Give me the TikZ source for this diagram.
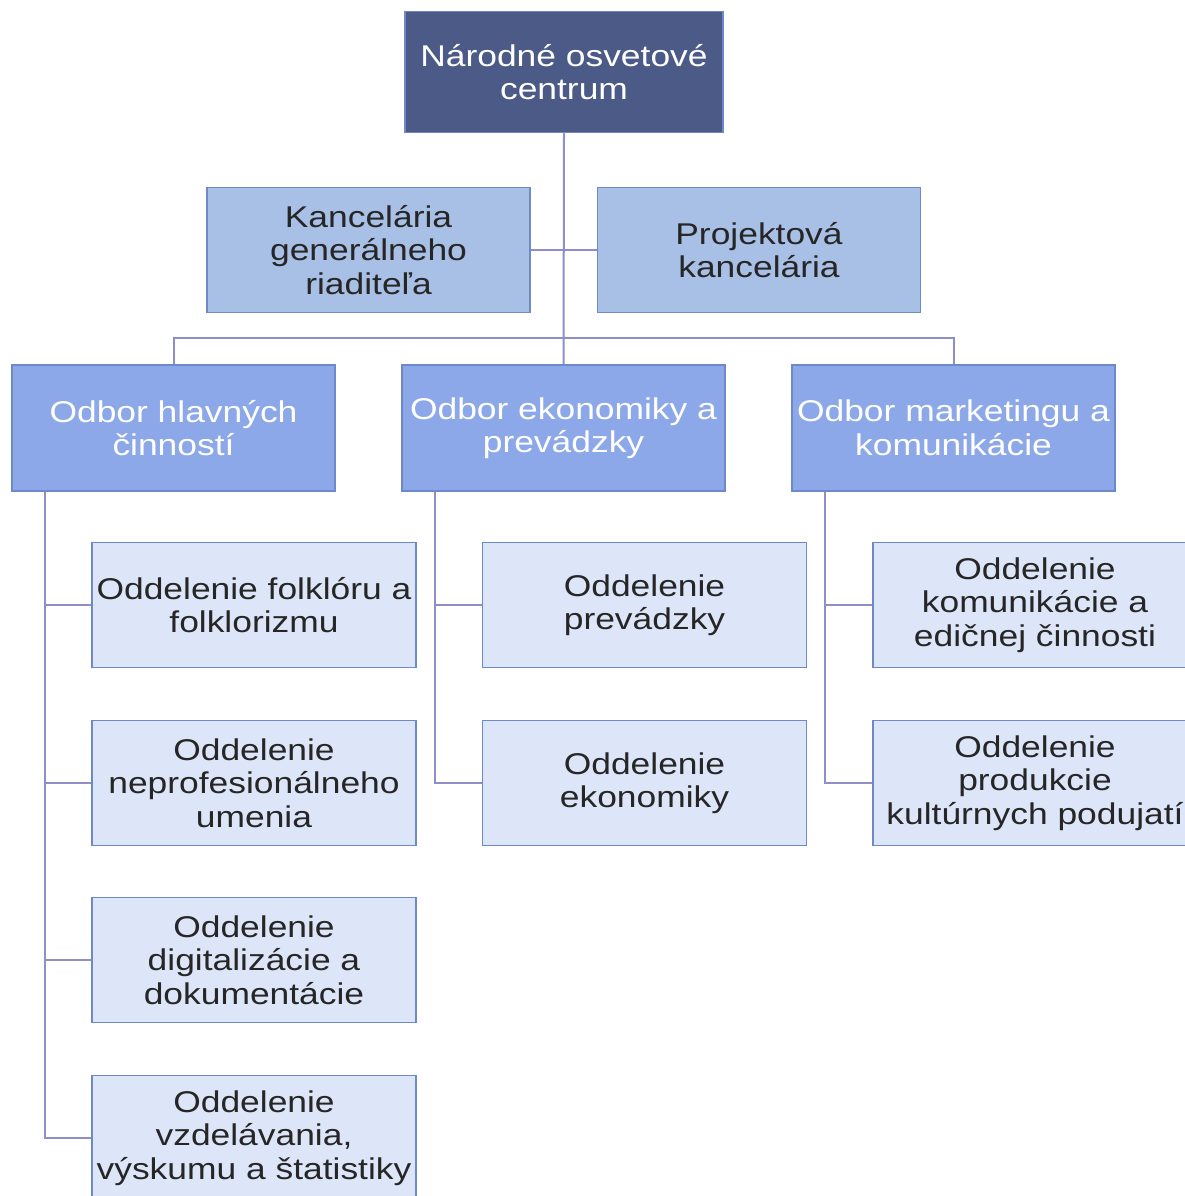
\documentclass[tikz,border=0pt]{standalone}
\usepackage{fontspec}
\setmainfont[FakeStretch=1.18]{Liberation Sans}
\definecolor{topblue}{HTML}{4B5A87}
\definecolor{midblue}{HTML}{A9C0E6}
\definecolor{odbblue}{HTML}{8CA8E8}
\definecolor{subblue}{HTML}{DDE6F8}
\definecolor{edgeblue}{HTML}{6E88C8}
\definecolor{lineblue}{HTML}{8E8EC8}
\tikzset{
  box/.style = {shape=rectangle, draw=edgeblue, line width=1.5pt, align=center,
    inner sep=0pt, font=\fontsize{30}{33.5}\selectfont},
  topbox/.style = {box, fill=topblue, text=white, minimum width=318, minimum height=121},
  kbox/.style = {box, fill=midblue, text=black!85, minimum width=323, minimum height=125},
  obox/.style = {box, fill=odbblue, text=white, minimum width=323, minimum height=126},
  sbox/.style = {box, fill=subblue, text=black!85, minimum width=324, minimum height=125},
  link/.style = {draw=lineblue, line width=2pt}
}
\begin{document}
\begin{tikzpicture}[x=1pt, y=-1pt]
  \useasboundingbox (0,0) rectangle (1185,1196);
  \clip (0,0) rectangle (1185,1196);

  \node[topbox] (NOC) at (564,72) {Národné osvetové\\ centrum};
  \node[kbox] (KGR) at (368.5,250) {Kancelária\\ generálneho\\ riaditeľa};
  \node[kbox] (PK) at (759,250) {Projektová\\ kancelária};

  \node[obox] (OHC) at (173.5,428) {Odbor hlavných\\ činností};
  \node[obox] (OEP) at (563.5,428) {Odbor ekonomiky a\\ prevádzky};
  \node[obox] (OMK) at (953.5,428) {Odbor marketingu a\\ komunikácie};

  \node[sbox] (OFF) at (254,605) {Oddelenie folklóru a\\ folklorizmu};
  \node[sbox] (ONU) at (254,783) {Oddelenie\\ neprofesionálneho\\ umenia};
  \node[sbox] (ODD) at (254,960) {Oddelenie\\ digitalizácie a\\ dokumentácie};
  \node[sbox] (OVV) at (254,1138) {Oddelenie\\ vzdelávania,\\ výskumu a štatistiky};

  \node[sbox] (OP) at (644.5,605) {Oddelenie\\ prevádzky};
  \node[sbox] (OE) at (644.5,783) {Oddelenie\\ ekonomiky};

  \node[sbox] (OKE) at (1035,605) {Oddelenie\\ komunikácie a\\ edičnej činnosti};
  \node[sbox] (OPK) at (1035,783) {Oddelenie\\ produkcie\\ kultúrnych podujatí};

  \coordinate (OHCl) at ([xshift=-128.5]OHC.south);
  \coordinate (OEPl) at ([xshift=-128.5]OEP.south);
  \coordinate (OMKl) at ([xshift=-128.5]OMK.south);

  \draw[link] (NOC.south) -- (OEP.north);
  \draw[link] (KGR.east) -- (PK.west);
  \draw[link] (OHC.north) -- ++(0,-26) -| (OMK.north);

  \draw[link] (OHCl) |- (OVV.west);
  \draw[link] (OHCl) |- (OFF.west);
  \draw[link] (OHCl) |- (ONU.west);
  \draw[link] (OHCl) |- (ODD.west);

  \draw[link] (OEPl) |- (OE.west);
  \draw[link] (OEPl) |- (OP.west);

  \draw[link] (OMKl) |- (OPK.west);
  \draw[link] (OMKl) |- (OKE.west);
\end{tikzpicture}
\end{document}
